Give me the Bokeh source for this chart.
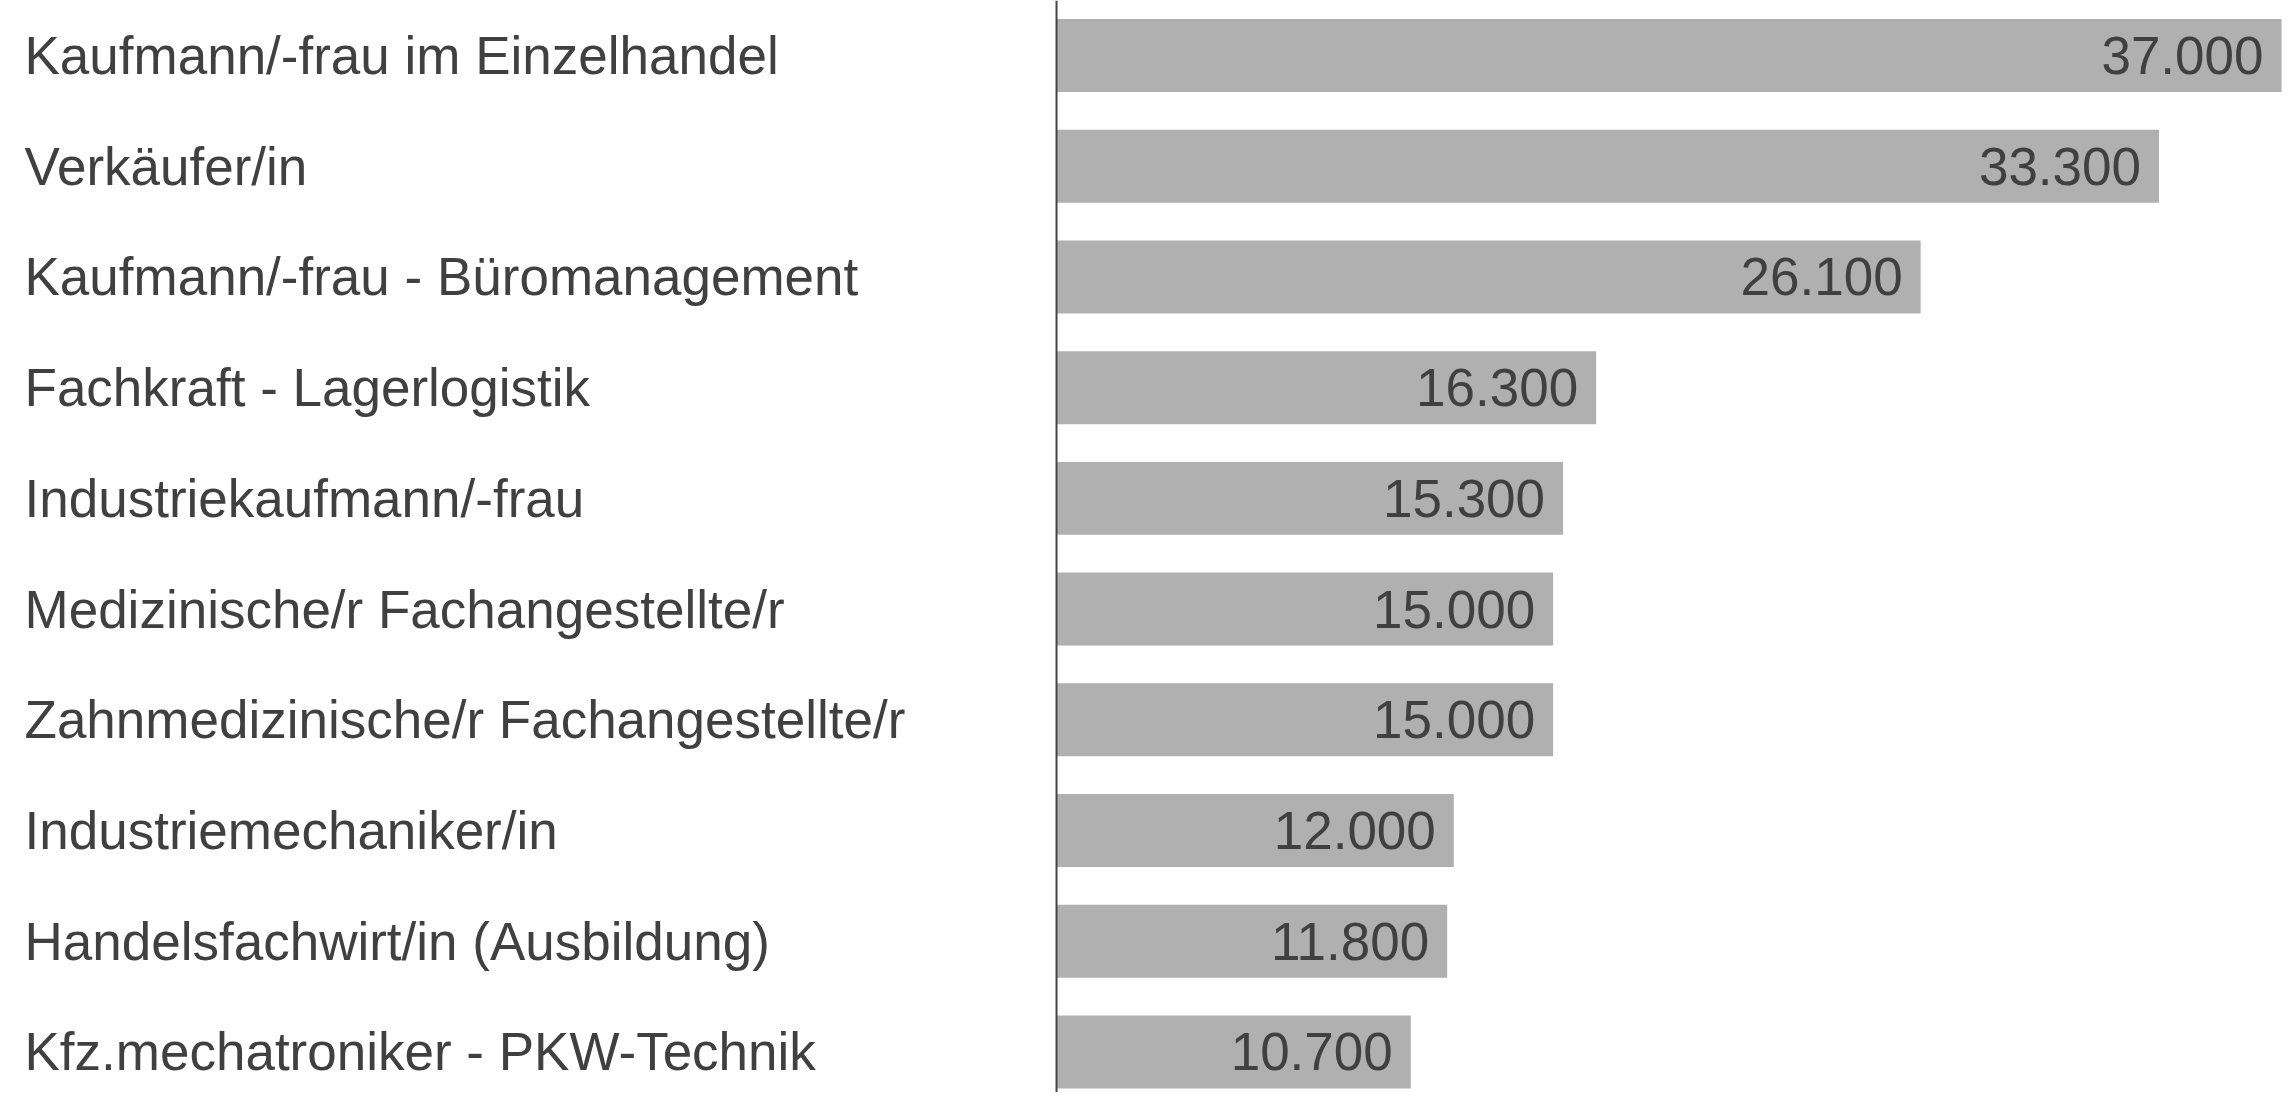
from bokeh.plotting import figure
from bokeh.models import ColumnDataSource, Range1d, Span
from bokeh.core.properties import value
from bokeh.embed import file_html
from bokeh.resources import INLINE

categories = [
    "Kaufmann/-frau im Einzelhandel",
    "Verkäufer/in",
    "Kaufmann/-frau - Büromanagement",
    "Fachkraft - Lagerlogistik",
    "Industriekaufmann/-frau",
    "Medizinische/r Fachangestellte/r",
    "Zahnmedizinische/r Fachangestellte/r",
    "Industriemechaniker/in",
    "Handelsfachwirt/in (Ausbildung)",
    "Kfz.mechatroniker - PKW-Technik",
]
values = [37000, 33300, 26100, 16300, 15300, 15000, 15000, 12000, 11800, 10700]

labels = [f"{v:,}".replace(",", ".") for v in values]
pos = list(range(len(categories)))

src = ColumnDataSource(dict(y=pos, v=values, cat=categories, lab=labels, zero=[0] * len(values)))

p = figure(width=2284, height=1092, output_backend="svg", toolbar_location=None,
           x_range=Range1d(-31896, 37090), y_range=Range1d(9.366, -0.4967),
           min_border=0, min_border_left=0, min_border_right=0,
           min_border_top=0, min_border_bottom=0)
p.axis.visible = False
p.grid.visible = False
p.outline_line_color = None
p.background_fill_color = "white"
p.border_fill_color = "white"

p.hbar(y="y", left=0, right="v", height=0.659, source=src,
       fill_color="#b0b0b0", line_color=None)

p.add_layout(Span(location=0, dimension="height", line_color="#444444", line_width=2))

p.text(x="v", y="y", text="lab", source=src, x_offset=-18,
       text_align="right", text_baseline="middle",
       text_font=value("Liberation Sans"), text_font_size="53px", text_color="#404040")

p.text(x="zero", y="y", text="cat", source=src, x_offset=-1032,
       text_align="left", text_baseline="middle",
       text_font=value("Liberation Sans"), text_font_size="53px", text_color="#404040")

open("out.html", "w").write(file_html(p, INLINE))
